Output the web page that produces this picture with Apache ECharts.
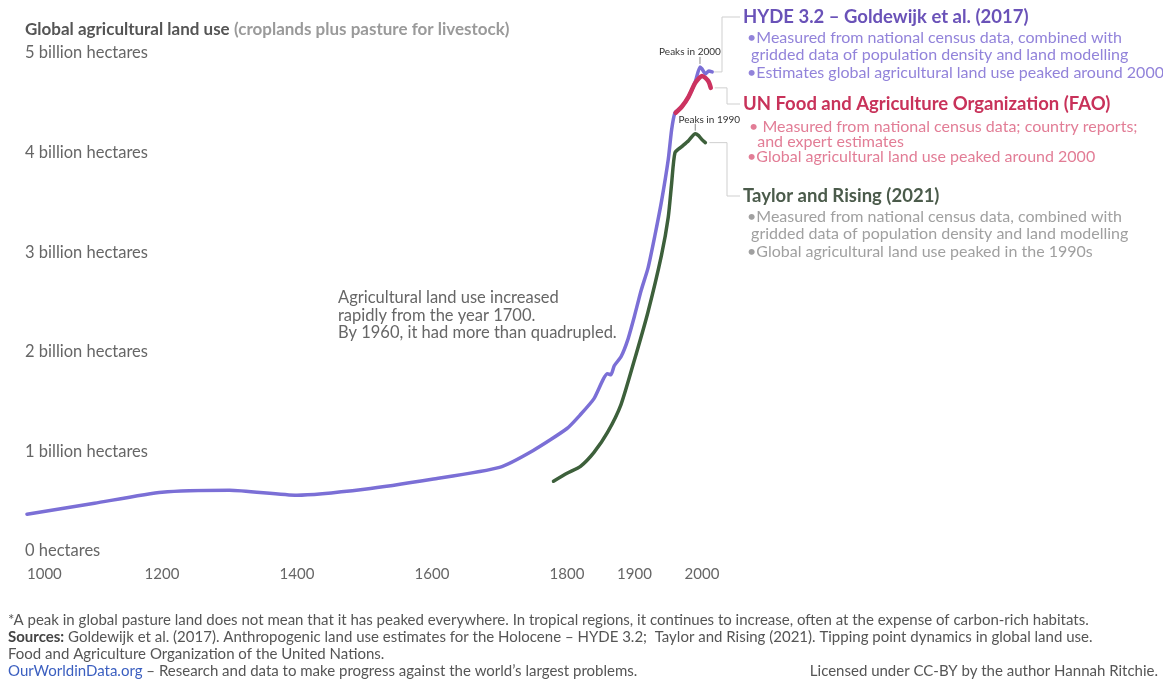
<!DOCTYPE html>
<html>
<head>
<meta charset="utf-8">
<script src="https://cdn.jsdelivr.net/npm/echarts@6/dist/echarts.min.js"></script>
<style>
  html, body { margin: 0; padding: 0; background: #fff; }
  #chart { width: 1163px; height: 679px; }
</style>
</head>
<body>
<div id="chart"></div>
<script>
  "use strict";
  // HYDE 3.2 (Goldewijk et al. 2017), billion hectares
  var hydeYears = [1000, 1100, 1200, 1300, 1400, 1500, 1600, 1700, 1750, 1800, 1820, 1840, 1860, 1865, 1870, 1880, 1890, 1900, 1910, 1920, 1930, 1940, 1950, 1955, 1960, 1970, 1980, 1990, 1997, 2000, 2005, 2010, 2015];
  var hydeValues = [0.37, 0.48, 0.59, 0.61, 0.56, 0.62, 0.72, 0.84, 1.01, 1.23, 1.37, 1.53, 1.78, 1.77, 1.86, 1.95, 2.12, 2.36, 2.62, 2.84, 3.16, 3.51, 3.93, 4.23, 4.40, 4.46, 4.56, 4.71, 4.86, 4.84, 4.79, 4.82, 4.81];
  // UN FAO
  var faoYears = [1961, 1970, 1980, 1990, 2000, 2005, 2010, 2013];
  var faoValues = [4.40, 4.46, 4.56, 4.70, 4.77, 4.75, 4.71, 4.65];
  // Taylor and Rising (2021)
  var trYears = [1780, 1800, 1820, 1840, 1860, 1880, 1900, 1920, 1940, 1950, 1955, 1960, 1970, 1980, 1990, 1995, 2000, 2005];
  var trValues = [0.70, 0.78, 0.85, 0.99, 1.19, 1.47, 1.92, 2.40, 2.97, 3.35, 3.69, 4.00, 4.06, 4.12, 4.19, 4.17, 4.13, 4.10];
  var shownYears = [1000, 1200, 1400, 1600, 1800, 1900, 2000];
  var yLabels = ['0 hectares', '1 billion hectares', '2 billion hectares', '3 billion hectares', '4 billion hectares', '5 billion hectares'];

  var FONT = 'Lato, "Noto Sans", sans-serif';
  var PURPLE = '#7b6fd6', RED = '#cc3360', GREEN = '#3d603b';

  function pairs(xs, ys) {
    return xs.map(function (x, i) { return [x, ys[i]]; });
  }

  function line(name, data, color, width) {
    return {
      name: name,
      type: 'line',
      data: data,
      symbol: 'none',
      smooth: 0.2,
      lineStyle: { color: color, width: width, cap: 'round', join: 'round' },
      z: 3
    };
  }

  var chart = echarts.init(document.getElementById('chart'));
  chart.setOption({
    animation: false,
    backgroundColor: '#fff',
    textStyle: { fontFamily: FONT },
    title: {
      left: 20, top: 16,
      text: '{b|Global agricultural land use} {n|(croplands plus pasture for livestock)}',
      textStyle: {
        rich: {
          b: { fontFamily: FONT, fontSize: 17, fontWeight: 'bold', color: '#555' },
          n: { fontFamily: FONT, fontSize: 17, color: '#9a9a9a' }
        }
      }
    },
    grid: { left: 27, top: 53, width: 688.5, height: 498, containLabel: false },
    xAxis: {
      type: 'value', min: 1000, max: 2020, interval: 100,
      axisLine: { show: false }, axisTick: { show: false }, splitLine: { show: false },
      axisLabel: {
        margin: 16, color: '#666', fontSize: 15, fontFamily: FONT,
        alignMinLabel: 'left', showMaxLabel: false,
        formatter: function (v) { return shownYears.indexOf(v) >= 0 ? String(v) : ''; }
      }
    },
    yAxis: {
      type: 'value', min: 0, max: 5, interval: 1, offset: 2,
      axisLine: { show: false }, axisTick: { show: false }, splitLine: { show: false },
      axisLabel: {
        inside: true, margin: 0, color: '#666', fontSize: 16.5, fontFamily: FONT,
        formatter: function (v) { return yLabels[v]; }
      }
    },
    series: [
      line('HYDE 3.2', pairs(hydeYears, hydeValues), PURPLE, 3.5),
      line('FAO', pairs(faoYears, faoValues), RED, 4.5),
      line('Taylor and Rising', pairs(trYears, trValues), GREEN, 3.5)
    ]
  });

  // annotations anchored to the data
  var px = function (x, y) { return chart.convertToPixel({ gridIndex: 0 }, [x, y]); };
  var hydeEnd = px(hydeYears[hydeYears.length - 1], hydeValues[hydeValues.length - 1]);
  var faoEnd = px(faoYears[faoYears.length - 1], faoValues[faoValues.length - 1]);
  var trEnd = px(trYears[trYears.length - 1], trValues[trValues.length - 1]);
  var peak2000 = px(1997, 4.86);
  var peak1990 = px(1990, 4.19);

  function txt(x, y, s, size, color, weight, align) {
    return {
      type: 'text', x: x, y: y, silent: true,
      style: {
        text: s, fill: color, align: align || 'left', verticalAlign: 'middle',
        font: (weight || 'normal') + ' ' + size + 'px ' + FONT
      }
    };
  }
  function poly(points, color) {
    return {
      type: 'polyline', silent: true, shape: { points: points },
      style: { stroke: color || '#cfcfcf', lineWidth: 1, fill: null }
    };
  }

  var bx = 727, tx = 743, NOTE = 16.5, LEG = 16, HEAD = 18.5, FOOT = 15;
  var graphics = [
    // brackets from line ends to legend blocks
    poly([[hydeEnd[0] + 2, hydeEnd[1]], [bx - 5, hydeEnd[1]], [bx - 5, 17], [tx - 3, 17]]),
    poly([[faoEnd[0] + 4, faoEnd[1]], [bx, faoEnd[1]], [bx, 104], [tx - 3, 104]]),
    poly([[trEnd[0] + 4, trEnd[1]], [bx, trEnd[1]], [bx, 196], [tx - 3, 196]]),
    // peak labels
    txt(peak2000[0] - 10, peak2000[1] - 15, 'Peaks in 2000', 10, '#333', 'normal', 'center'),
    poly([[peak2000[0], peak2000[1] - 10], [peak2000[0], peak2000[1] - 3]], '#888'),
    txt(peak1990[0] + 14, peak1990[1] - 14, 'Peaks in 1990', 10, '#333', 'normal', 'center'),
    poly([[peak1990[0], peak1990[1] - 10], [peak1990[0], peak1990[1] - 3]], '#888'),
    // inline note
    txt(338, 298, 'Agricultural land use increased', NOTE, '#666'),
    txt(338, 316, 'rapidly from the year 1700.', NOTE, '#666'),
    txt(338, 333, 'By 1960, it had more than quadrupled.', NOTE, '#666'),
    // HYDE block
    txt(tx, 17, 'HYDE 3.2 – Goldewijk et al. (2017)', HEAD, '#6a52b8', 'bold'),
    txt(tx + 4, 38, '•Measured from national census data, combined with', LEG, '#9283da'),
    txt(tx + 4, 55, ' gridded data of population density and land modelling', LEG, '#9283da'),
    txt(tx + 4, 73, '•Estimates global agricultural land use peaked around 2000', LEG, '#9283da'),
    // FAO block
    txt(tx, 104, 'UN Food and Agriculture Organization (FAO)', HEAD, '#c8325a', 'bold'),
    txt(tx + 6, 127, '• Measured from national census data; country reports;', LEG, '#e27d96'),
    txt(tx + 6, 142, '  and expert estimates', LEG, '#e27d96'),
    txt(tx + 4, 157, '•Global agricultural land use peaked around 2000', LEG, '#e27d96'),
    // Taylor and Rising block
    txt(tx, 196, 'Taylor and Rising (2021)', HEAD, '#4b5b4b', 'bold'),
    txt(tx + 4, 217, '•Measured from national census data, combined with', LEG, '#a0a0a0'),
    txt(tx + 4, 234, ' gridded data of population density and land modelling', LEG, '#a0a0a0'),
    txt(tx + 4, 252, '•Global agricultural land use peaked in the 1990s', LEG, '#a0a0a0'),
    // footer
    txt(8, 620, '*A peak in global pasture land does not mean that it has peaked everywhere. In tropical regions, it continues to increase, often at the expense of carbon-rich habitats.', FOOT, '#555'),
    {
      type: 'text', x: 8, y: 637, silent: true,
      style: {
        text: '{b|Sources:} Goldewijk et al. (2017). Anthropogenic land use estimates for the Holocene – HYDE 3.2;  Taylor and Rising (2021). Tipping point dynamics in global land use.',
        verticalAlign: 'middle', fill: '#555', font: FOOT + 'px ' + FONT,
        rich: { b: { fontWeight: 'bold', fontSize: FOOT, fontFamily: FONT, fill: '#444' } }
      }
    },
    txt(8, 654, 'Food and Agriculture Organization of the United Nations.', FOOT, '#555'),
    {
      type: 'text', x: 8, y: 671, silent: true,
      style: {
        text: '{l|OurWorldinData.org} – Research and data to make progress against the world’s largest problems.',
        verticalAlign: 'middle', fill: '#555', font: FOOT + 'px ' + FONT,
        rich: { l: { fontSize: FOOT, fontFamily: FONT, fill: '#3b5fc0' } }
      }
    },
    txt(1158, 671, 'Licensed under CC-BY by the author Hannah Ritchie.', FOOT, '#555', 'normal', 'right')
  ];
  chart.setOption({ graphic: graphics });

  window.addEventListener('resize', function () { chart.resize(); });
</script>
</body>
</html>
